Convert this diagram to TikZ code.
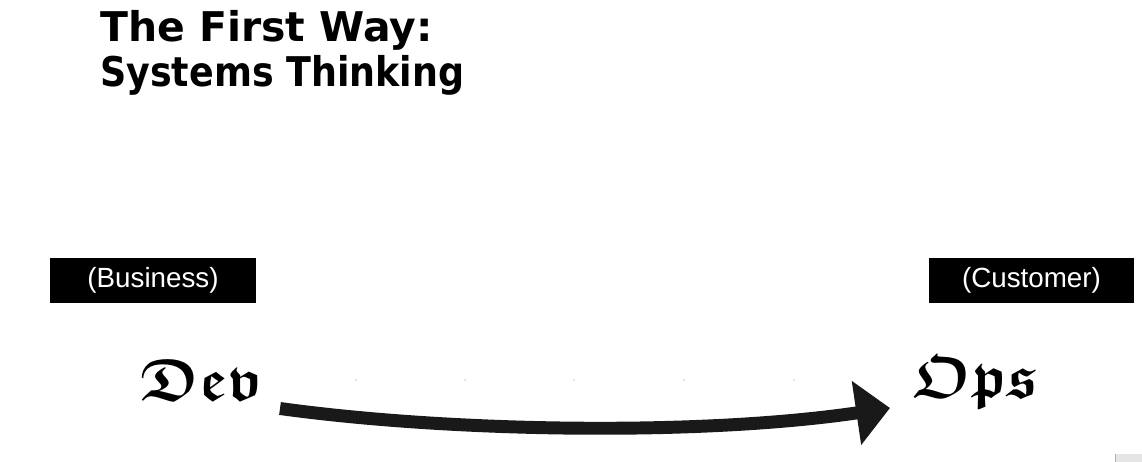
\documentclass[tikz,border=0pt]{standalone}
\usepackage{amsmath,amssymb}
\usepackage{fontspec}
\usetikzlibrary{arrows.meta}
\newfontfamily\titlefont{DejaVu Sans}
\newfontfamily\labelfont{Liberation Sans}
\tikzset{
  titletext/.style={anchor=base west, inner sep=0pt, transform shape, font=\titlefont\bfseries\fontsize{23.3pt}{28pt}\selectfont},
  tagbox/.style={fill=black, text=white, minimum width=116.8pt, minimum height=25.5pt, inner sep=0pt, font=\labelfont\fontsize{15.8pt}{18pt}\selectfont},
  bigword/.style={anchor=base west, inner sep=0pt, font=\fontsize{34pt}{40pt}\selectfont},
  flow/.style={line width=7.37pt, color=black!90, line cap=butt, -{Triangle[length=19.3pt, width=35.7pt]}},
  faintdot/.style={fill=gray!35, draw=none}
}
\begin{document}
\begin{tikzpicture}[x=0.02cm, y=-0.02cm]
\useasboundingbox (0,0) rectangle (1142,462);
\node[titletext] (t1) at (100,42) {The First Way:};
\node[titletext, xscale=0.89] (t2) at (100,87) {Systems Thinking};
\node[tagbox] (business) at (153,280.5) {(Business)};
\node[tagbox] (customer) at (1031.5,280.5) {(Customer)};
\node[bigword] (dev) at (140,400) {$\boldsymbol{\mathfrak{Dev}}$};
\node[bigword] (ops) at (913,397) {$\boldsymbol{\mathfrak{Ops}}$};
\foreach \xx in {356,465,574,684,794} \fill[faintdot] (\xx,380) circle (1);
\coordinate (s) at (280,408.5);
\coordinate (e) at (890,408);
\draw[flow] (s) .. controls (450,432) and (700,436) .. (e);
\fill[gray!20] (1115,454) rectangle (1142,462);
\draw[gray!60, line width=0.6pt] (1115.5,454) -- (1115.5,462);
\end{tikzpicture}
\end{document}
